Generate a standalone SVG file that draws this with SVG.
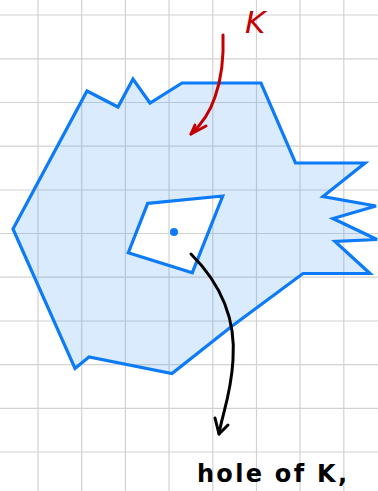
<svg xmlns="http://www.w3.org/2000/svg" width="378" height="491" viewBox="0 0 378 491">
<defs>
<style>
.grid line{stroke:#d2d2d2;stroke-width:1.2}
.shape{fill:rgb(44,144,244);fill-opacity:0.18;fill-rule:evenodd;stroke:none}
.edge{fill:none;stroke:#0d7bf7;stroke-width:3.2;stroke-linejoin:miter}
.hw{font-family:"DejaVu Sans","Liberation Sans",sans-serif;font-weight:bold}
.lbl{font-family:"DejaVu Sans","Liberation Sans",sans-serif;font-weight:normal;font-style:italic}
.blk{fill:none;stroke:#000;stroke-width:3;stroke-linecap:round;stroke-linejoin:round}
.red{fill:none;stroke:#c40000;stroke-width:3;stroke-linecap:round;stroke-linejoin:round}
</style>
</defs>
<rect width="378" height="491" fill="#fff"/>
<g class="grid">
<line x1="38" y1="0" x2="38" y2="491"/>
<line x1="81.7" y1="0" x2="81.7" y2="491"/>
<line x1="125.4" y1="0" x2="125.4" y2="491"/>
<line x1="169" y1="0" x2="169" y2="491"/>
<line x1="212.8" y1="0" x2="212.8" y2="491"/>
<line x1="256.5" y1="0" x2="256.5" y2="491"/>
<line x1="300" y1="0" x2="300" y2="491"/>
<line x1="343.8" y1="0" x2="343.8" y2="491"/>
<line x1="0" y1="15" x2="378" y2="15"/>
<line x1="0" y1="58.8" x2="378" y2="58.8"/>
<line x1="0" y1="102.5" x2="378" y2="102.5"/>
<line x1="0" y1="146.2" x2="378" y2="146.2"/>
<line x1="0" y1="190" x2="378" y2="190"/>
<line x1="0" y1="233.5" x2="378" y2="233.5"/>
<line x1="0" y1="277.2" x2="378" y2="277.2"/>
<line x1="0" y1="321" x2="378" y2="321"/>
<line x1="0" y1="364.6" x2="378" y2="364.6"/>
<line x1="0" y1="408.3" x2="378" y2="408.3"/>
<line x1="0" y1="452" x2="378" y2="452"/>
</g>
<g id="K">
<path class="shape" d="M13,229 L87,91 L118,107 L133,79 L150,103 L182,83 L261,83 L295.5,163 L365,163 L323,196.5 L376,206 L333,218.5 L377,239.5 L335,241.5 L370,273.5 L303,273.5 L231.5,326.5 L172,373.5 L89,357 L75,368.5 Z M147.7,203.3 L222.7,196 L192.3,272.7 L128.3,252.7 Z"/>
<path class="edge" d="M13,229 L87,91 L118,107 L133,79 L150,103 L182,83 L261,83 L295.5,163 L365,163 L323,196.5 L376,206 L333,218.5 L377,239.5 L335,241.5 L370,273.5 L303,273.5 L231.5,326.5 L172,373.5 L89,357 L75,368.5 Z"/>
<text class="lbl" x="245" y="33" font-size="31" fill="#c40000">K</text>
</g>
<g id="hole">
<path class="edge" d="M147.7,203.3 L222.7,196 L192.3,272.7 L128.3,252.7 Z"/>
<circle cx="174" cy="232" r="4" fill="#0d7bf7"/>
<text class="hw" x="197" y="482" font-size="24" fill="#000" textLength="150" lengthAdjust="spacing">hole of K,</text>
</g>
<g id="connectors">
<path class="red" d="M223,35 C224,60 221,80 215,97 C210,112 202,124 191,134"/>
<path class="red" d="M206,126 L191,134 L195,125"/>
<path class="blk" d="M191,254 C222,285 236,320 233,360 C231,395 222,415 219,434"/>
<path class="blk" d="M215,418 L219,434 L228,425"/>
</g>
</svg>
